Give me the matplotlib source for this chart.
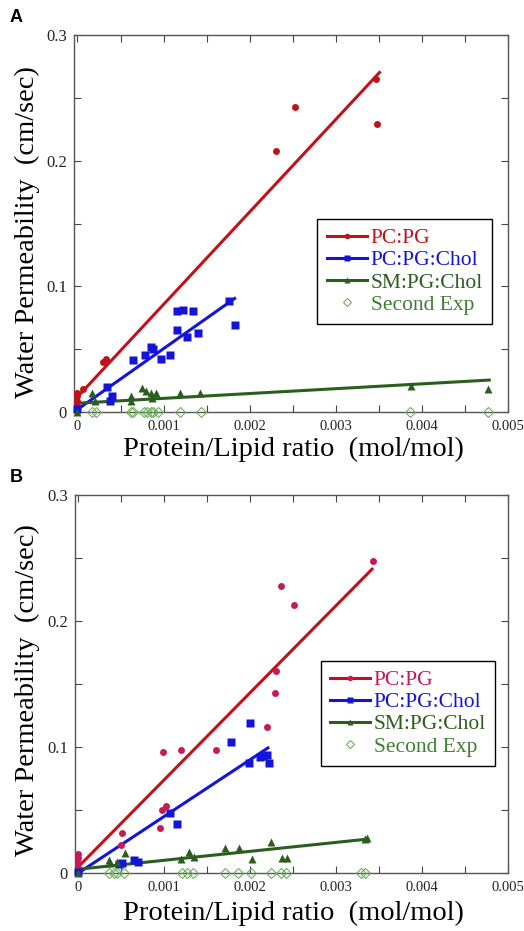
import numpy as np
import matplotlib
matplotlib.use("Agg")
import matplotlib.pyplot as plt
from matplotlib.lines import Line2D

plt.rcParams['font.family'] = ['Liberation Serif', 'DejaVu Serif']

# ---------------- Data: panel A ----------------
a_pcpg_x = [0.0, 0.0, 0.0, 0.0, 0.00006, 0.00030, 0.00033, 0.00230, 0.00253, 0.00347, 0.00348]
a_pcpg_y = [0.005, 0.009, 0.013, 0.015, 0.018, 0.040, 0.042, 0.208, 0.243, 0.265, 0.229]
a_chol_x = [0.0, 0.00034, 0.00040, 0.00038, 0.00065, 0.00079, 0.00085, 0.00088, 0.00097, 0.00107,
            0.00116, 0.00123, 0.00134, 0.00116, 0.00127, 0.00140, 0.00176, 0.00183]
a_chol_y = [0.002, 0.020, 0.013, 0.009, 0.041, 0.045, 0.052, 0.050, 0.042, 0.045,
            0.080, 0.081, 0.080, 0.065, 0.060, 0.063, 0.088, 0.069]
a_sm_x = [0.0, 0.00017, 0.00020, 0.00062, 0.00062, 0.00075, 0.00080, 0.00085, 0.00091, 0.00087,
          0.00119, 0.00142, 0.00387, 0.00477]
a_sm_y = [0.0, 0.015, 0.009, 0.013, 0.009, 0.019, 0.017, 0.015, 0.015, 0.011,
          0.015, 0.015, 0.021, 0.018]
a_second_x = [0.00017, 0.00021, 0.00062, 0.00065, 0.00077, 0.00081, 0.00085, 0.00088, 0.00093,
              0.00119, 0.00143, 0.00386, 0.00477]
a_second_y = [0.0] * len(a_second_x)
# linear fits: (intercept, slope, x_end)
a_pcpg_fit = (0.012, 73.6, 0.00352)
a_chol_fit = (0.002, 48.4, 0.00184)
a_sm_fit = (0.007, 3.85, 0.00480)

# ---------------- Data: panel B ----------------
b_pcpg_x = [0.0, 0.0, 0.0, 0.0, 0.00051, 0.00050, 0.00099, 0.00119, 0.00097, 0.00102, 0.00095,
            0.00160, 0.00220, 0.00229, 0.00230, 0.00236, 0.00251, 0.00343]
b_pcpg_y = [0.015, 0.012, 0.008, 0.004, 0.032, 0.022, 0.096, 0.098, 0.050, 0.053, 0.036,
            0.098, 0.116, 0.143, 0.160, 0.228, 0.213, 0.248]
b_chol_x = [0.0, 0.00047, 0.00051, 0.00065, 0.00069, 0.00106, 0.00115, 0.00178, 0.00200,
            0.00199, 0.00211, 0.00215, 0.00219, 0.00222]
b_chol_y = [0.001, 0.007, 0.008, 0.010, 0.009, 0.048, 0.039, 0.104, 0.119,
            0.087, 0.092, 0.093, 0.094, 0.087]
b_sm_x = [0.0, 0.00035, 0.00037, 0.00045, 0.00054, 0.00119, 0.00129, 0.00135, 0.00171, 0.00187,
          0.00202, 0.00224, 0.00237, 0.00243, 0.00333, 0.00336]
b_sm_y = [0.0, 0.010, 0.008, 0.009, 0.016, 0.011, 0.017, 0.013, 0.020, 0.020,
          0.011, 0.025, 0.012, 0.012, 0.027, 0.028]
b_second_x = [0.00035, 0.00041, 0.00045, 0.00053, 0.00120, 0.00126, 0.00133, 0.00171, 0.00186,
              0.00201, 0.00224, 0.00236, 0.00242, 0.00329, 0.00334]
b_second_y = [0.0] * len(b_second_x)
b_pcpg_fit = (0.005, 69.1, 0.00343)
b_chol_fit = (0.0, 45.0, 0.00222)
b_sm_fit = (0.003, 7.1, 0.00336)

series_names = ['PC:PG', 'PC:PG:Chol', 'SM:PG:Chol', 'Second Exp']
x_ticks = [0, 0.0005, 0.001, 0.0015, 0.002, 0.0025, 0.003, 0.0035, 0.004, 0.0045, 0.005]
x_ticklabels = ['0', '', '0.001', '', '0.002', '', '0.003', '', '0.004', '', '0.005']
y_ticks = [0, 0.05, 0.1, 0.15, 0.2, 0.25, 0.3]
y_ticklabels = ['0', '', '0.1', '', '0.2', '', '0.3']

RED_LINE = '#c0121a'
BLUE = '#1414d8'
DKGREEN = '#2b5e1e'
LTGREEN = '#6eb05c'
SECOND_TXT = '#3f7f30'
TICK_TXT = '#222222'

fig = plt.figure(figsize=(5.24, 9.31), dpi=100)


def panel(rect, data, pc_marker_color, pc_text_color, leg_anchor, letter, letter_y,
          ylab_xy, xlab_xy):
    ax = fig.add_axes(rect)
    (pcx, pcy, pcfit), (chx, chy, chfit), (smx, smy, smfit), (sex, sey) = data

    def fitline(fit, color):
        b0, m, xe = fit
        xs = np.array([0.0, xe])
        ax.plot(xs, b0 + m * xs, color=color, lw=2.2, solid_capstyle='butt', zorder=2)

    fitline(pcfit, RED_LINE)
    fitline(chfit, BLUE)
    fitline(smfit, DKGREEN)
    ax.plot(pcx, pcy, 'o', ms=5, color=pc_marker_color, mec='none', clip_on=False, zorder=3)
    ax.plot(chx, chy, 's', ms=5.5, color=BLUE, mec='none', clip_on=False, zorder=3)
    ax.plot(smx, smy, '^', ms=5.5, color=DKGREEN, mec='none', clip_on=False, zorder=3)
    ax.plot(sex, sey, 'D', ms=5, mfc='none', mec=LTGREEN, mew=0.8, clip_on=False, zorder=3)

    ax.set_xlim(-0.00004, 0.005)
    ax.set_ylim(0, 0.3)
    ax.set_xticks(x_ticks)
    ax.set_xticklabels(x_ticklabels)
    ax.set_yticks(y_ticks)
    ax.set_yticklabels(y_ticklabels)
    ax.tick_params(direction='in', top=True, right=True, length=5, width=0.8,
                   color='#444444', labelcolor=TICK_TXT)
    ax.tick_params(axis='x', pad=6, labelsize=10.5)
    ax.tick_params(axis='y', pad=5, labelsize=12)
    for s in ax.spines.values():
        s.set_color('#555555')
        s.set_linewidth(1.0)
    ax.set_xlabel('Protein/Lipid ratio  (mol/mol)', fontsize=20.5)
    ax.set_ylabel('Water Permeability  (cm/sec)', fontsize=20.5)
    ax.yaxis.set_label_coords(*ylab_xy)
    ax.xaxis.set_label_coords(*xlab_xy)

    handles = [
        Line2D([], [], color=RED_LINE, lw=2.2, marker='o', ms=4, mfc=pc_marker_color, mec='none'),
        Line2D([], [], color=BLUE, lw=2.2, marker='s', ms=4, mec='none'),
        Line2D([], [], color=DKGREEN, lw=2.2, marker='^', ms=4, mec='none'),
        Line2D([], [], ls='none', marker='D', ms=4.5, mfc='none', mec=LTGREEN, mew=0.8),
    ]
    leg = ax.legend(handles, series_names, loc='upper right', bbox_to_anchor=leg_anchor,
                    fontsize=15.5, frameon=True, fancybox=False, edgecolor='black',
                    framealpha=1, handlelength=1.9, handletextpad=0.15, labelspacing=0.1,
                    borderpad=0.42, borderaxespad=0)
    leg.get_frame().set_linewidth(1.0)
    for t, c in zip(leg.get_texts(), [pc_text_color, BLUE, DKGREEN, SECOND_TXT]):
        t.set_color(c)
    fig.text(10 / 524, 1 - letter_y / 931, letter, fontsize=13, fontweight='bold',
             family='Liberation Sans', va='center', ha='left')
    return ax


dataA = [(a_pcpg_x, a_pcpg_y, a_pcpg_fit), (a_chol_x, a_chol_y, a_chol_fit),
         (a_sm_x, a_sm_y, a_sm_fit), (a_second_x, a_second_y)]
dataB = [(b_pcpg_x, b_pcpg_y, b_pcpg_fit), (b_chol_x, b_chol_y, b_chol_fit),
         (b_sm_x, b_sm_y, b_sm_fit), (b_second_x, b_second_y)]

panel([74 / 524, 1 - 412 / 931, 434 / 524, 377 / 931], dataA, RED_LINE, RED_LINE,
      (0.963, 0.512), 'A', 18, (-0.078, 0.477), (0.505, -0.066))
panel([75 / 524, 1 - 873 / 931, 433 / 524, 378 / 931], dataB, '#c81a52', '#c81a52',
      (0.970, 0.561), 'B', 478, (-0.081, 0.484), (0.505, -0.074))

fig.savefig('out.png', dpi=100)
